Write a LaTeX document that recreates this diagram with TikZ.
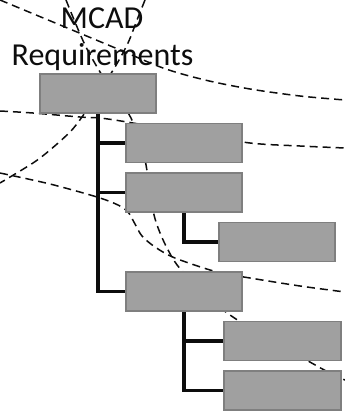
\documentclass[tikz,border=0pt]{standalone}
\usepackage{fontspec}
\setmainfont{Carlito}
\usetikzlibrary{backgrounds}
\definecolor{boxfill}{HTML}{A0A0A0}
\definecolor{boxline}{HTML}{7F7F7F}
\definecolor{ink}{HTML}{0D0D0D}
\tikzset{
  req/.style={draw=boxline, fill=boxfill, line width=1.6pt,
    minimum width=116.5pt, minimum height=39pt, inner sep=0pt},
  tree/.style={draw=ink, line width=3.6pt},
  boundary/.style={draw=ink, line width=1.5pt, dash pattern=on 8pt off 5pt},
  heading/.style={font=\fontsize{32}{38}\selectfont, text=ink, inner sep=0pt}
}

\begin{document}
\begin{tikzpicture}[x=1pt,y=-1pt]
\useasboundingbox (0,0) rectangle (345,418);

% Title over the root requirement.
\node[heading, anchor=base] (mcad) at (102,28.5) {MCAD};
\node[heading, anchor=base] (reqs) at (102.5,65) {Requirements};

% Requirement blocks, one row each.
\node[req] (root)  at (98,93.5)  {};
\node[req] (sub1)  at (184,143)  {};
\node[req] (sub2)  at (184,192.5) {};
\node[req] (sub2a) at (277,242)  {};
\node[req] (sub3)  at (184,291.5) {};
\node[req] (sub3a) at (282.5,341) {};
\node[req] (sub3b) at (282.5,390.5) {};

\begin{scope}[on background layer]
  % Dashed boundaries running behind the blocks.
  \draw[boundary] plot[smooth] coordinates
    {(0,0) (113,47) (163,68) (205,80) (250,89) (300,96) (345,100)};
  \draw[boundary] plot[smooth] coordinates
    {(66,0) (85,45) (105,80) (131,118) (145,160) (150,195) (156,222)
     (167,248) (183,272) (230,315) (317,366) (345,380)};
  \draw[boundary] plot[smooth] coordinates
    {(0,173) (50,184) (97,197) (118,205) (128,212) (135,224) (142,236)
     (155,247) (175,258) (217,272) (250,278) (300,286) (345,292)};
  \draw[boundary] plot[smooth] coordinates
    {(145,0) (137,20) (128,43) (115,67) (100,90) (82,117) (70,132)
     (50,150) (33,163) (0,183)};
  \draw[boundary] plot[smooth] coordinates
    {(0,111) (33,113) (80,117) (100,118) (127,122) (190,133) (250,143)
     (300,146) (345,148)};

  % Decomposition tree.
  \draw[tree] (root.south) |- (sub1.west);
  \draw[tree] (root.south) |- (sub2.west);
  \draw[tree] (root.south) |- (sub3.west);
  \draw[tree] (sub2.south) |- (sub2a.west);
  \draw[tree] (sub3.south) |- (sub3a.west);
  \draw[tree] (sub3.south) |- (sub3b.west);
\end{scope}

\end{tikzpicture}
\end{document}
